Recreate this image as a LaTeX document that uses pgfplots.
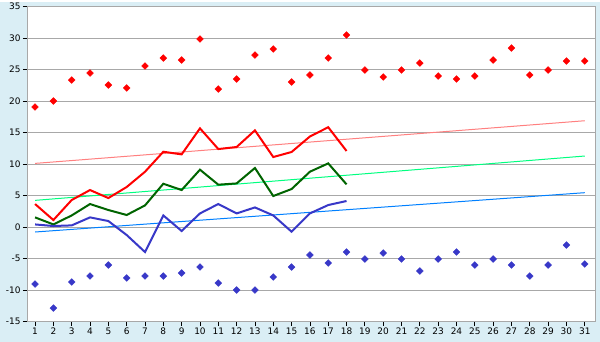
\documentclass[border=0pt]{standalone}
\usepackage{fontspec}
\setmainfont{DejaVu Sans}
\usepackage{pgfplots}
\pgfplotsset{compat=1.18}
\definecolor{bgblue}{RGB}{218,238,245}
\definecolor{gridgray}{RGB}{168,168,168}
\definecolor{redpt}{RGB}{255,0,0}
\definecolor{bluept}{RGB}{56,56,200}
\definecolor{darkgreen}{RGB}{0,100,0}
\definecolor{redtrend}{RGB}{255,128,128}
\definecolor{greentrend}{RGB}{0,255,128}
\definecolor{bluetrend}{RGB}{0,128,255}
\begin{document}
\begin{tikzpicture}[x=1bp,y=1bp]
\fill[bgblue] (0,0) rectangle (600,340);
\begin{axis}[
  at={(27bp,20bp)}, anchor=south west,
  scale only axis, width=568bp, height=315bp,
  xmin=0.56, xmax=31.56, ymin=-15, ymax=35,
  xtick={1,...,31}, ytick={-15,-10,...,35},
  ymajorgrids, grid style={gridgray, line width=1bp},
  axis line style={gridgray, line width=1bp},
  axis background/.style={fill=white},
  tick align=outside, major tick length=4bp,
  xtick pos=bottom, ytick pos=left,
  tick style={black, line width=0.8bp},
  ticklabel style={font=\fontsize{9}{10}\selectfont, text=black},
  /pgf/number format/assume math mode=true,
  xticklabel style={yshift=1bp},
  yticklabel style={xshift=1bp},
  clip=false,
]
% trend lines
\addplot[redtrend, line width=1bp] coordinates {(1,10.13) (31,16.9)};
\addplot[greentrend, line width=1bp] coordinates {(1,4.26) (31,11.3)};
\addplot[bluetrend, line width=1bp] coordinates {(1,-0.76) (31,5.48)};
% lines
\addplot[redpt, line width=2bp] coordinates {
(1,3.68) (2,1.14) (3,4.32) (4,5.9) (5,4.63) (6,6.38) (7,8.8) (8,11.98) (9,11.56)
(10,15.69) (11,12.41) (12,12.73) (13,15.37) (14,11.14) (15,11.94) (16,14.4) (17,15.87) (18,12.1)};
\addplot[darkgreen, line width=2bp] coordinates {
(1,1.56) (2,0.44) (3,1.87) (4,3.68) (5,2.73) (6,1.94) (7,3.46) (8,6.9) (9,5.9)
(10,9.13) (11,6.75) (12,6.95) (13,9.4) (14,4.95) (15,6.06) (16,8.81) (17,10.13) (18,6.8)};
\addplot[bluept, line width=2bp] coordinates {
(1,0.44) (2,0.19) (3,0.29) (4,1.56) (5,0.98) (6,-1.24) (7,-3.94) (8,1.87) (9,-0.6)
(10,2.19) (11,3.68) (12,2.19) (13,3.14) (14,1.87) (15,-0.71) (16,2.19) (17,3.52) (18,4.16)};
% points
\addplot[only marks, mark=square*, mark size=2.4bp, redpt, mark options={fill=redpt, rotate=45}] coordinates {
(1,19.08) (2,20.03) (3,23.36) (4,24.47) (5,22.57) (6,22.1) (7,25.58) (8,26.85) (9,26.54) (10,29.87)
(11,21.93) (12,23.52) (13,27.33) (14,28.29) (15,23.05) (16,24.16) (17,26.85) (18,30.51) (19,24.95) (20,23.84)
(21,24.95) (22,26.06) (23,24.0) (24,23.52) (25,24.0) (26,26.54) (27,28.44) (28,24.16) (29,24.95) (30,26.38) (31,26.38)};
\addplot[only marks, mark=square*, mark size=2.4bp, bluept, mark options={fill=bluept, rotate=45}] coordinates {
(1,-9.02) (2,-12.83) (3,-8.7) (4,-7.75) (5,-6.0) (6,-8.06) (7,-7.75) (8,-7.75) (9,-7.27) (10,-6.32)
(11,-8.86) (12,-9.97) (13,-9.97) (14,-7.9) (15,-6.32) (16,-4.41) (17,-5.68) (18,-3.94) (19,-5.05) (20,-4.1)
(21,-5.05) (22,-6.95) (23,-5.05) (24,-3.94) (25,-6.0) (26,-5.05) (27,-6.0) (28,-7.75) (29,-6.0) (30,-2.83) (31,-5.84)};
\end{axis}
\end{tikzpicture}
\end{document}
